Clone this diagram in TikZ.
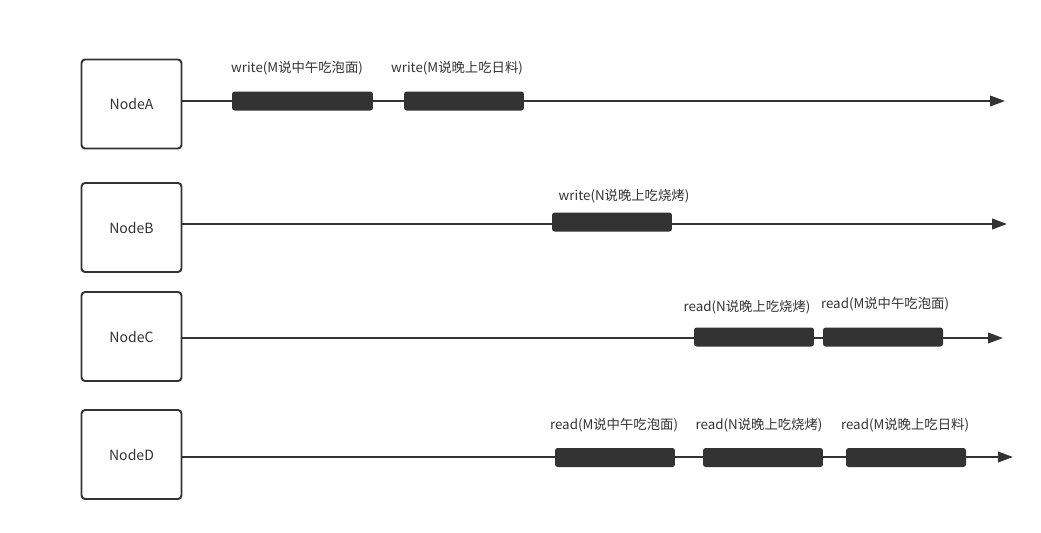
\documentclass[tikz,border=0pt]{standalone}
\usepackage{fontspec}
\setmainfont{Noto Sans CJK SC}
\usepackage{xcolor}
\usepackage{tikz}
\usetikzlibrary{positioning, arrows.meta}
\definecolor{ink}{HTML}{333333}

\begin{document}
\begin{tikzpicture}[
  x=0.02cm, y=-0.02cm,
  every node/.style={font=\fontsize{7.6}{9}\selectfont, text=ink},
  nodebox/.style={draw=ink, line width=1.1pt, rounded corners=2pt,
                  minimum width=2cm, minimum height=1.78cm, fill=white,
                  font=\fontsize{8}{9}\selectfont},
  timeline/.style={draw=ink, line width=1.1pt,
                   -{Triangle[length=8.5pt, width=6pt]}},
  msg/.style={fill=ink, draw=none, rounded corners=1.5pt,
              minimum width=2.4cm, minimum height=0.38cm, inner sep=0pt},
  op/.style={inner sep=1pt},
]
  \useasboundingbox (0,0) rectangle (1041,532);

  % Nodes (processes)
  \node[nodebox] (nA) at (131.5,104) {NodeA};
  \node[nodebox] (nB) at (131.5,227.5) {NodeB};
  \node[nodebox] (nC) at (131.5,336.5) {NodeC};
  \node[nodebox] (nD) at (131.5,454.5) {NodeD};

  % Ends of the time lines
  \coordinate (endA) at (1005,101);
  \coordinate (endB) at (1007,224);
  \coordinate (endC) at (1003,338);
  \coordinate (endD) at (1013,457);

  % Time lines
  \draw[timeline] (nA.east |- endA) -- (endA);
  \draw[timeline] (nB.east |- endB) -- (endB);
  \draw[timeline] (nC.east |- endC) -- (endC);
  \draw[timeline] (nD.east |- endD) -- (endD);

  % Messages on NodeA
  \node[msg, minimum width=2.82cm] (a1) at (302.5,101) {};
  \node[msg] (a2) at (464,101) {};
  \node[op] at (297,68) {write(M说中午吃泡面)};
  \node[op] at (457,68) {write(M说晚上吃日料)};

  % Messages on NodeB
  \node[msg] (b1) at (612,222) {};
  \node[op] at (624,196) {write(N说晚上吃烧烤)};

  % Messages on NodeC
  \node[msg] (c1) at (754,337) {};
  \node[msg] (c2) at (883,337) {};
  \node[op] at (747,307) {read(N说晚上吃烧烤)};
  \node[op] at (885,304) {read(M说中午吃泡面)};

  % Messages on NodeD
  \node[msg] (d1) at (615,457.5) {};
  \node[msg] (d2) at (763,457.5) {};
  \node[msg] (d3) at (906,457.5) {};
  \node[op] at (614,425) {read(M说中午吃泡面)};
  \node[op] at (759,425) {read(N说晚上吃烧烤)};
  \node[op] at (905,425) {read(M说晚上吃日料)};
\end{tikzpicture}
\end{document}
